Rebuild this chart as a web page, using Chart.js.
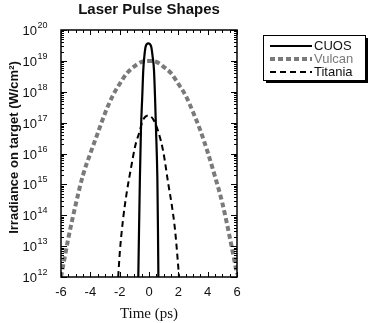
<!DOCTYPE html>
<html>
<head>
<meta charset="utf-8">
<script src="https://cdn.jsdelivr.net/npm/chart.js@4.4.1/dist/chart.umd.min.js"></script>
<style>
  html, body { margin: 0; padding: 0; background: #fff; }
  #wrap { width: 369px; height: 323px; }
</style>
</head>
<body>
<div id="wrap"><canvas id="pulseChart" width="369" height="323"></canvas></div>
<script>
// values (time in ps, irradiance in W/cm^2)
const cuosTime = [-0.73, -0.68, -0.62, -0.55, -0.46, -0.39, -0.32, -0.23, -0.05, 0.15, 0.25, 0.34, 0.41, 0.48, 0.57, 0.61, 0.64];
const cuosIrr = [1e12, 3.2e13, 1.6e15, 5.6e16, 7e17, 5e18, 1.35e19, 2.9e19, 3.7e19, 2.9e19, 1.35e19, 5e18, 7e17, 5.6e16, 1.6e15, 4e13, 1e12];

const vulcanTime = [-6, -5.5, -5, -4.5, -4, -3.5, -3, -2.5, -2, -1.5, -1, -0.5, 0, 0.5, 1, 1.5, 2, 2.5, 3, 3.5, 4, 4.5, 5, 5.5, 6];
const vulcanIrr = [1e12, 1.8e13, 2.2e14, 2e15, 1e16, 4.5e16, 2e17, 7e17, 1.8e18, 4e18, 6.6e18, 9.3e18, 1e19, 9.3e18, 6.4e18, 4e18, 1.8e18, 7.5e17, 2.2e17, 5.6e16, 1.1e16, 1.8e15, 2.5e14, 2e13, 1.25e12];

const titaniaTime = [-2.1, -1.99, -1.76, -1.53, -1.18, -0.96, -0.62, -0.45, -0.05, 0.3, 0.64, 0.98, 1.32, 1.55, 1.78, 2.0, 2.05];
const titaniaIrr = [1e12, 6.3e12, 8e13, 5e14, 4.5e15, 1.6e16, 5.6e16, 1.1e17, 1.7e17, 1.25e17, 5e16, 1.1e16, 1e15, 2.2e14, 3.2e13, 2e12, 1e12];

const decades = [12, 13, 14, 15, 16, 17, 18, 19, 20];
const seriesNames = ["CUOS", "Vulcan", "Titania"];

const SANS = "'Liberation Sans', Arial, Helvetica, sans-serif";
const SERIF = "'Liberation Serif', 'Times New Roman', serif";

function pts(xs, ys) {
    return xs.map((x, i) => ({ x: x, y: ys[i] }));
}

// ticks pointing inward on all four sides, plus y labels, title and legend box
const framePlugin = {
    id: "frame",
    afterDraw(chart) {
        const ctx = chart.ctx;
        const a = chart.chartArea;
        const xs = chart.scales.x;
        const ys = chart.scales.y;
        ctx.save();
        ctx.strokeStyle = "#000";
        ctx.lineWidth = 1;

        // x ticks
        for (let v = -6; v <= 6.001; v += 0.5) {
            const px = Math.round(xs.getPixelForValue(v)) + 0.5;
            const len = (Math.abs(v % 2) < 0.01) ? 5 : 3;
            ctx.beginPath();
            ctx.moveTo(px, a.bottom); ctx.lineTo(px, a.bottom - len);
            ctx.moveTo(px, a.top); ctx.lineTo(px, a.top + len);
            ctx.stroke();
        }
        // y ticks
        decades.forEach((d, i) => {
            const py = Math.round(ys.getPixelForValue(Math.pow(10, d))) + 0.5;
            ctx.beginPath();
            ctx.moveTo(a.left, py); ctx.lineTo(a.left + 6, py);
            ctx.moveTo(a.right, py); ctx.lineTo(a.right - 6, py);
            ctx.stroke();
            if (i < decades.length - 1) {
                for (let m = 2; m <= 9; m++) {
                    const my = Math.round(ys.getPixelForValue(m * Math.pow(10, d))) + 0.5;
                    ctx.beginPath();
                    ctx.moveTo(a.left, my); ctx.lineTo(a.left + 3, my);
                    ctx.moveTo(a.right, my); ctx.lineTo(a.right - 3, my);
                    ctx.stroke();
                }
            }
            // label 10^d
            ctx.fillStyle = "#111";
            ctx.textBaseline = "middle";
            ctx.textAlign = "left";
            ctx.font = "13px " + SANS;
            const w10 = ctx.measureText("10").width;
            ctx.font = "9px " + SANS;
            const wExp = ctx.measureText(String(d)).width;
            const x0 = a.left - 14 - w10 - wExp;
            ctx.font = "13px " + SANS;
            ctx.fillText("10", x0, py + 1);
            ctx.font = "9px " + SANS;
            ctx.fillText(String(d), x0 + w10 + 0.5, py - 5);
        });

        // frame
        ctx.lineWidth = 1.5;
        ctx.strokeRect(a.left, a.top, a.right - a.left, a.bottom - a.top);

        // y title
        ctx.save();
        ctx.translate(14, (a.top + a.bottom) / 2 - 6);
        ctx.rotate(-Math.PI / 2);
        ctx.textAlign = "center";
        ctx.textBaseline = "middle";
        ctx.font = "bold 13px " + SANS;
        ctx.fillStyle = "#111";
        ctx.fillText("Irradiance on target (W/cm\u00B2)", 0, 0);
        ctx.restore();

        // chart title
        ctx.textAlign = "center";
        ctx.textBaseline = "middle";
        ctx.font = "bold 15px " + SANS;
        ctx.fillStyle = "#111";
        ctx.fillText("Laser Pulse Shapes", (a.left + a.right) / 2, 10);

        // legend with drop shadow
        const bx = 263, by = 35, bw = 102, bh = 45;
        ctx.fillStyle = "#000";
        ctx.fillRect(bx + 3, by + 3, bw, bh);
        ctx.fillStyle = "#fff";
        ctx.fillRect(bx, by, bw, bh);
        ctx.lineWidth = 1;
        ctx.strokeStyle = "#000";
        ctx.strokeRect(bx + 0.5, by + 0.5, bw, bh);
        chart.data.datasets.forEach((ds, i) => {
            const ly = by + 11 + i * 13;
            ctx.save();
            ctx.strokeStyle = ds.borderColor;
            ctx.lineWidth = ds.borderWidth;
            ctx.setLineDash(ds.borderDash || []);
            ctx.beginPath();
            ctx.moveTo(bx + 7, ly);
            ctx.lineTo(bx + 49, ly);
            ctx.stroke();
            ctx.restore();
            ctx.fillStyle = ds.legendText;
            ctx.textAlign = "left";
            ctx.font = "13px " + SANS;
            ctx.fillText(ds.label, bx + 51, ly);
        });
        ctx.restore();
    }
};

const ctx = document.getElementById("pulseChart").getContext("2d");
const pulseChart = new Chart(ctx, {
    type: "line",
    data: {
        datasets: [
            {
                label: seriesNames[0],
                data: pts(cuosTime, cuosIrr),
                borderColor: "#000",
                legendText: "#111",
                borderWidth: 2.2,
                pointRadius: 0,
                cubicInterpolationMode: "monotone"
            },
            {
                label: seriesNames[1],
                data: pts(vulcanTime, vulcanIrr),
                borderColor: "#7a7a7a",
                legendText: "#7a7a7a",
                borderWidth: 4,
                borderDash: [5, 3],
                pointRadius: 0,
                cubicInterpolationMode: "monotone"
            },
            {
                label: seriesNames[2],
                data: pts(titaniaTime, titaniaIrr),
                borderColor: "#000",
                legendText: "#111",
                borderWidth: 2,
                borderDash: [6, 4],
                pointRadius: 0,
                cubicInterpolationMode: "monotone"
            }
        ]
    },
    options: {
        responsive: false,
        animation: false,
        layout: { padding: { left: 0, top: 30, right: 132, bottom: 0 } },
        plugins: { legend: { display: false }, tooltip: { enabled: false }, title: { display: false } },
        scales: {
            x: {
                type: "linear",
                min: -6,
                max: 6,
                grid: { display: false },
                border: { display: false },
                ticks: { stepSize: 2, padding: 0, color: "#111", font: { family: SANS, size: 13 } },
                title: { display: true, text: "Time (ps)", color: "#111", padding: { top: 2, bottom: 0 }, font: { family: SERIF, size: 15 } },
                afterFit(scale) { scale.height = 46; }
            },
            y: {
                type: "logarithmic",
                min: 1e12,
                max: 1e20,
                grid: { display: false },
                border: { display: false },
                ticks: { display: false },
                afterFit(scale) { scale.width = 61; }
            }
        }
    },
    plugins: [framePlugin]
});
</script>
</body>
</html>
